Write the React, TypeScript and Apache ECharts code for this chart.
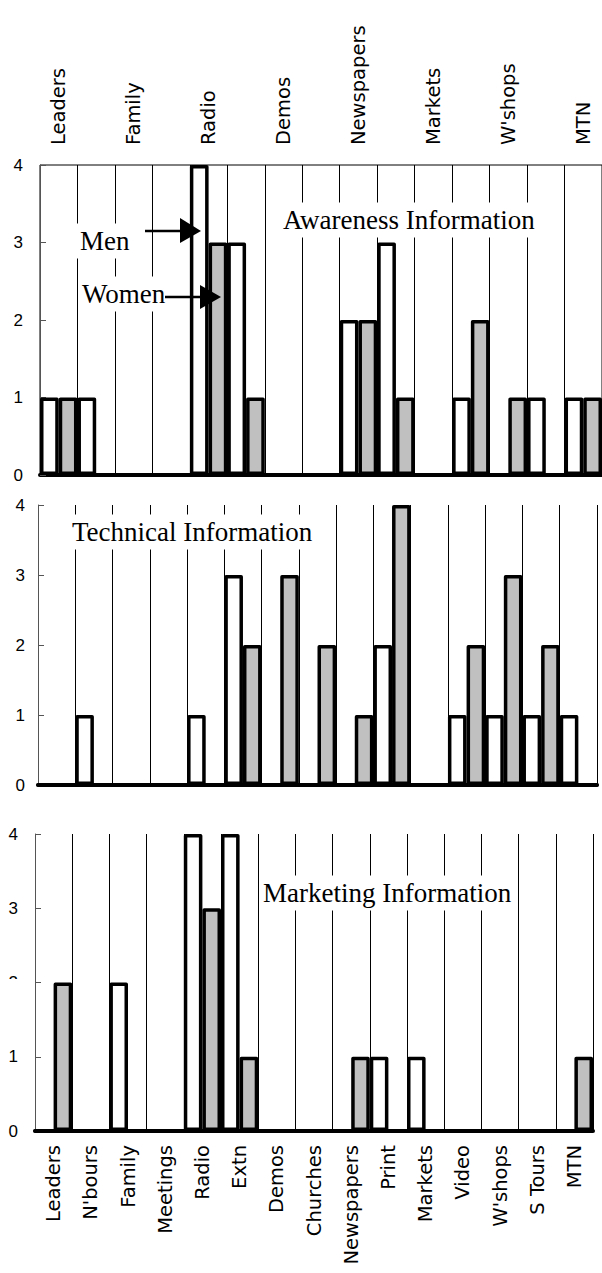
import React, { useEffect, useRef } from "react";
import * as echarts from "echarts";

const categories = ["Leaders", "N'bours", "Family", "Meetings", "Radio", "Extn", "Demos", "Churches", "Newspapers", "Print", "Markets", "Video", "W'shops", "S Tours", "MTN"];

const awarenessMen = [1, 1, 0, 0, 4, 3, 0, 0, 2, 3, 0, 1, 0, 1, 1];
const awarenessWomen = [1, 0, 0, 0, 3, 1, 0, 0, 2, 1, 0, 2, 1, 0, 1];
const technicalMen = [0, 1, 0, 0, 1, 3, 0, 0, 0, 2, 0, 1, 1, 1, 1];
const technicalWomen = [0, 0, 0, 0, 0, 2, 3, 2, 1, 4, 0, 2, 3, 2, 0];
const marketingMen = [0, 0, 2, 0, 4, 4, 0, 0, 0, 1, 1, 0, 0, 0, 0];
const marketingWomen = [2, 0, 0, 0, 3, 1, 0, 0, 1, 0, 0, 0, 0, 0, 1];

const panelTitles = ["Awareness Information", "Technical Information", "Marketing Information"];
const seriesNames = ["Men", "Women"];
const yMin = 0;
const yMax = 4;
const yStep = 1;

const SANS = '"DejaVu Sans", sans-serif';
const NUM = '"Liberation Sans", Arial, sans-serif';
const SERIF = '"Liberation Serif", "Times New Roman", serif';

export default function App() {
  const ref = useRef<HTMLDivElement>(null);

  useEffect(() => {
    if (!ref.current) return;
    const chart = echarts.init(ref.current, null, { renderer: "svg" });

    const grids = [
      { left: 40, top: 165, width: 562, height: 310, show: true, borderColor: "#000", borderWidth: 1, backgroundColor: "transparent" },
      { left: 38, top: 505, width: 559, height: 280 },
      { left: 35, top: 834, width: 558, height: 297 },
    ];

    const baseX = (gi: number, showLabels: boolean) => ({
      type: "category",
      gridIndex: gi,
      data: categories,
      position: "bottom",
      boundaryGap: true,
      axisLine: { show: true, lineStyle: { color: "#000", width: 4 } },
      axisTick: { show: false },
      axisLabel: showLabels
        ? { show: true, interval: 0, rotate: 90, margin: 14, color: "#000", fontFamily: SANS, fontSize: 19.5 }
        : { show: false },
      splitLine: { show: true, interval: 0, lineStyle: { color: "#000", width: 1 } },
    });

    const xAxes: any[] = [
      baseX(0, false),
      baseX(1, false),
      baseX(2, true),
      {
        type: "category",
        gridIndex: 0,
        data: categories,
        position: "top",
        boundaryGap: true,
        axisLine: { show: false },
        axisTick: { show: false },
        axisLabel: { show: true, interval: 1, rotate: -90, margin: 20, color: "#000", fontFamily: SANS, fontSize: 19.5 },
        splitLine: { show: false },
      },
    ];

    const yAxes: any[] = [0, 1, 2].map((gi) => ({
      type: "value",
      gridIndex: gi,
      min: yMin,
      max: yMax,
      interval: yStep,
      axisLine: { show: true, lineStyle: { color: "#555", width: 1 } },
      axisTick: { show: true, inside: true, length: 6, lineStyle: { color: "#555" } },
      axisLabel: { show: true, margin: gi === 1 ? 13 : 17, color: "#000", fontFamily: NUM, fontSize: 17 },
      splitLine: { show: false },
    }));

    const panelData = [
      [awarenessMen, awarenessWomen],
      [technicalMen, technicalWomen],
      [marketingMen, marketingWomen],
    ];

    const series: any[] = [];
    panelData.forEach((pair, gi) => {
      pair.forEach((vals, si) => {
        series.push({
          type: "bar",
          name: seriesNames[si] + " " + gi,
          xAxisIndex: gi,
          yAxisIndex: gi,
          data: vals,
          barGap: "0%",
          barCategoryGap: "0%",
          itemStyle: {
            color: si === 0 ? "#ffffff" : "#c0c0c0",
            borderColor: "#000",
            borderWidth: 3.5,
            borderJoin: "round",
          },
          emphasis: { disabled: true },
        });
      });
    });

    const titleStyle = (text: string, x: number, y: number) => ({
      type: "text",
      z: 50,
      style: {
        text,
        x,
        y,
        font: `27px ${SERIF}`,
        fill: "#000",
        align: "left",
        verticalAlign: "middle",
        backgroundColor: "#fff",
        padding: [4, 4],
      },
    });

    const graphic: any[] = [
      titleStyle(panelTitles[0], 279, 220),
      titleStyle(panelTitles[1], 68, 532),
      titleStyle(panelTitles[2], 259, 893),
      titleStyle(seriesNames[0], 76, 241),
      titleStyle(seriesNames[1], 78, 294),
      { type: "line", z: 60, shape: { x1: 145, y1: 231, x2: 184, y2: 231 }, style: { stroke: "#000", lineWidth: 2.5 } },
      { type: "polygon", z: 60, shape: { points: [[180, 218], [201, 231], [180, 243]] }, style: { fill: "#000" } },
      { type: "line", z: 60, shape: { x1: 165, y1: 297, x2: 204, y2: 297 }, style: { stroke: "#000", lineWidth: 2.5 } },
      { type: "polygon", z: 60, shape: { points: [[200, 285], [221, 297], [200, 309]] }, style: { fill: "#000" } },
      { type: "rect", z: 60, shape: { x: 0, y: 979, width: 32, height: 14 }, style: { fill: "#fff" } },
    ];

    chart.setOption({
      animation: false,
      backgroundColor: "#fff",
      grid: grids,
      xAxis: xAxes,
      yAxis: yAxes,
      series,
      graphic,
    });

    return () => chart.dispose();
  }, []);

  return (
    <div
      ref={ref}
      style={{ position: "absolute", left: 0, top: 0, width: 602, height: 1273, background: "#fff" }}
    />
  );
}
